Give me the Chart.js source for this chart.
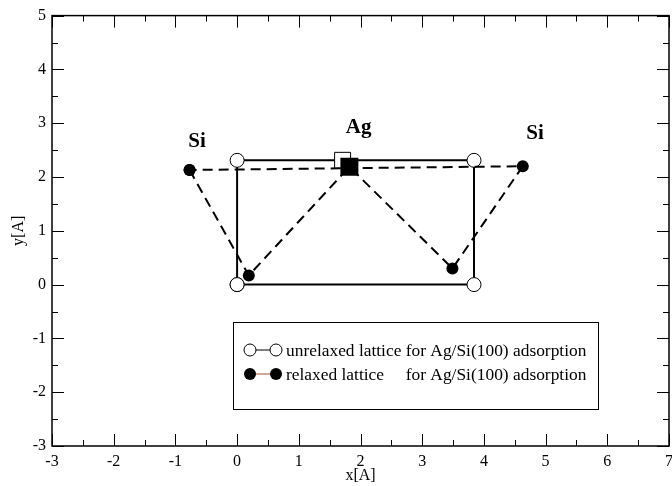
<!DOCTYPE html>
<html>
<head>
<meta charset="utf-8">
<script src="https://cdn.jsdelivr.net/npm/chart.js@4.4.1/dist/chart.umd.min.js"></script>
<style>
  html, body { margin: 0; padding: 0; background: #fff; overflow: hidden; }
  #wrap { width: 672px; height: 486px; overflow: hidden; }
</style>
</head>
<body>
<div id="wrap"><canvas id="latticeChart" width="679" height="486"></canvas></div>
<script>
// unrelaxed lattice (open symbols, solid line)
const unrelaxedX = [0, 0, 1.71, 3.84, 3.84, 0];
const unrelaxedY = [0, 2.31, 2.31, 2.31, 0, 0];
const unrelaxedStyle = ['circle', 'circle', 'rect', 'circle', 'circle', 'circle'];

// relaxed lattice (filled symbols, dashed line)
const relaxedX = [-0.77, 0.19, 1.82, 3.49, 4.63, -0.77];
const relaxedY = [2.13, 0.17, 2.19, 0.30, 2.20, 2.13];
const relaxedStyle = ['circle', 'circle', 'rect', 'circle', 'circle', 'circle'];

// atom labels
const atomNames = ['Si', 'Ag', 'Si'];
const atomX = [-0.65, 1.97, 4.83];
const atomY = [2.56, 2.82, 2.71];

const xTicks = [-3, -2, -1, 0, 1, 2, 3, 4, 5, 6, 7];
const yTicks = [-3, -2, -1, 0, 1, 2, 3, 4, 5];

const legendLabels = ['unrelaxed lattice', 'relaxed lattice'];
const legendTail = 'for Ag/Si(100) adsorption';

const serif = '"Liberation Serif", "Times New Roman", serif';

const toPoints = (xs, ys) => xs.map((x, i) => ({ x: x, y: ys[i] }));

/* frame, inward ticks, atom names, legend box */
const decorations = {
	id: 'decorations',
	afterDatasetsDraw(chart) {
		const ctx = chart.ctx;
		const { left, right, top, bottom } = chart.chartArea;
		const xs = chart.scales.x, ys = chart.scales.y;
		ctx.save();
		ctx.strokeStyle = '#000';
		ctx.lineWidth = 1.5;
		ctx.strokeRect(left, top, right - left, bottom - top);

		ctx.lineWidth = 1;
		ctx.beginPath();
		for (let v = xTicks[0]; v <= xTicks[xTicks.length - 1] + 0.01; v += 0.5) {
			const px = Math.round(xs.getPixelForValue(v)) + 0.5;
			const len = Number.isInteger(v) ? 12 : 6;
			ctx.moveTo(px, bottom); ctx.lineTo(px, bottom - len);
			ctx.moveTo(px, top); ctx.lineTo(px, top + len);
		}
		for (let v = yTicks[0]; v <= yTicks[yTicks.length - 1] + 0.01; v += 0.5) {
			const py = Math.round(ys.getPixelForValue(v)) + 0.5;
			const len = Number.isInteger(v) ? 12 : 6;
			ctx.moveTo(left, py); ctx.lineTo(left + len, py);
			ctx.moveTo(right, py); ctx.lineTo(right - len, py);
		}
		ctx.stroke();

		// atom names
		ctx.fillStyle = '#000';
		ctx.textAlign = 'center';
		ctx.textBaseline = 'alphabetic';
		ctx.font = 'bold 21px ' + serif;
		atomNames.forEach((name, i) => {
			ctx.fillText(name, xs.getPixelForValue(atomX[i]), ys.getPixelForValue(atomY[i]));
		});

		// legend box
		const bx = 233, by = 322, bw = 365, bh = 87;
		ctx.fillStyle = '#fff';
		ctx.fillRect(bx, by, bw, bh);
		ctx.lineWidth = 1;
		ctx.strokeStyle = '#000';
		ctx.strokeRect(bx + 0.5, by + 0.5, bw, bh);

		const rowY = [350, 374];
		ctx.font = '17.4px ' + serif;
		ctx.textAlign = 'left';
		ctx.textBaseline = 'middle';
		const textX = 286;
		const tailX = textX + ctx.measureText(legendLabels[0] + ' ').width;
		rowY.forEach((ry, i) => {
			ctx.beginPath();
			ctx.strokeStyle = i === 0 ? '#000' : '#a0522d';
			ctx.lineWidth = 1;
			ctx.moveTo(250, ry); ctx.lineTo(276, ry);
			ctx.stroke();
			[250, 276].forEach(cx => {
				ctx.beginPath();
				ctx.arc(cx, ry, 6, 0, Math.PI * 2);
				if (i === 0) {
					ctx.fillStyle = '#fff'; ctx.fill();
					ctx.strokeStyle = '#000'; ctx.stroke();
				} else {
					ctx.fillStyle = '#000'; ctx.fill();
				}
			});
			ctx.fillStyle = '#000';
			ctx.fillText(legendLabels[i], textX, ry + 1);
			ctx.fillText(legendTail, tailX, ry + 1);
		});
		ctx.restore();
	}
};

const chart = new Chart(document.getElementById('latticeChart'), {
	type: 'scatter',
	data: {
		datasets: [
			{
				label: 'unrelaxed',
				data: toPoints(unrelaxedX, unrelaxedY),
				showLine: true,
				borderColor: '#000',
				borderWidth: 2,
				pointStyle: unrelaxedStyle,
				pointRadius: unrelaxedStyle.map(s => s === 'rect' ? 11.3 : 7),
				pointBorderWidth: 1,
				pointBorderColor: '#000',
				pointBackgroundColor: '#fff',
				order: 2
			},
			{
				label: 'relaxed',
				data: toPoints(relaxedX, relaxedY),
				showLine: true,
				borderColor: '#000',
				borderWidth: 2,
				borderDash: [10, 6],
				pointStyle: relaxedStyle,
				pointRadius: relaxedStyle.map(s => s === 'rect' ? 12.7 : 6),
				pointBorderWidth: 0,
				pointBackgroundColor: '#000',
				order: 1
			}
		]
	},
	options: {
		responsive: false,
		animation: false,
		layout: { padding: { top: 13, right: 2, left: 0, bottom: 0 } },
		plugins: {
			legend: { display: false },
			tooltip: { enabled: false }
		},
		scales: {
			x: {
				type: 'linear',
				min: -3, max: 7,
				afterBuildTicks: s => { s.ticks = xTicks.map(v => ({ value: v })); },
				afterFit: s => { s.height = 40; },
				grid: { display: false, drawTicks: false },
				border: { display: false },
				ticks: { color: '#000', padding: 6, font: { family: serif, size: 16 } },
				title: { display: true, text: 'x[A]', color: '#000', padding: { top: 0, bottom: 1 }, font: { family: serif, size: 16 } }
			},
			y: {
				type: 'linear',
				min: -3, max: 5,
				afterBuildTicks: s => { s.ticks = yTicks.map(v => ({ value: v })); },
				afterFit: s => { s.width = 52; },
				grid: { display: false, drawTicks: false },
				border: { display: false },
				ticks: { color: '#000', padding: 6, font: { family: serif, size: 16 } },
				title: { display: true, text: 'y[A]', color: '#000', padding: { top: 9, bottom: 0 }, font: { family: serif, size: 16 } }
			}
		}
	},
	plugins: [decorations]
});
</script>
</body>
</html>
